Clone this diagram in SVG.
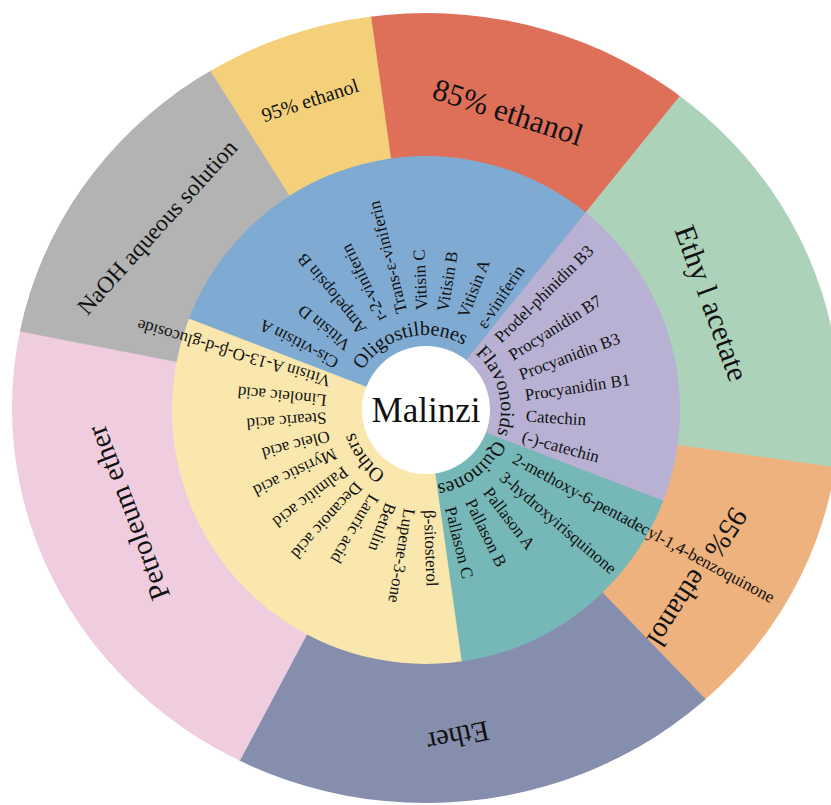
<svg xmlns="http://www.w3.org/2000/svg" width="831" height="805" viewBox="0 0 831 805">
<defs>
<style>
text{font-family:"Liberation Serif","Times New Roman",serif;fill:#111;}
.leaf{font-size:17px;}
.cat{font-size:20px;}
.out{text-anchor:middle;dominant-baseline:central;}
</style>
<clipPath id="clipOuter"><ellipse cx="426" cy="408" rx="414" ry="395"/></clipPath>
<clipPath id="clipInner"><circle cx="426" cy="410" r="254"/></clipPath>
<path id="arcOlig" d="M351.18,415.23 A75,75 0 0 1 494.51,379.50"/>
<path id="arcFlav" d="M419.46,335.29 A75,75 0 0 1 457.70,477.97"/>
<path id="arcQuin" d="M492.53,375.37 A75,75 0 0 1 375.33,465.30"/>
<path id="arcOth" d="M460.63,476.53 A75,75 0 0 1 370.70,359.33"/>
</defs>
<rect width="831" height="805" fill="#ffffff"/>

<g id="outer-ring" clip-path="url(#clipOuter)" stroke-width="0.8">
  <polygon id="s-85ethanol" points="426,410 286.8,-580.3 1055.3,-367.1" fill="#DE7059" stroke="#DE7059"/>
  <polygon id="s-ethylacetate" points="426,410 1055.3,-367.1 1416.3,549.2" fill="#ACD3B9" stroke="#ACD3B9"/>
  <polygon id="s-95ethanol-r" points="426,410 1416.3,549.2 1120.7,1129.3" fill="#EDB27E" stroke="#EDB27E"/>
  <polygon id="s-ether" points="426,410 1120.7,1129.3 -43.5,1292.9" fill="#858FAD" stroke="#858FAD"/>
  <polygon id="s-petroleum" points="426,410 -43.5,1292.9 -555.6,219.2" fill="#EFCDDF" stroke="#EFCDDF"/>
  <polygon id="s-naoh" points="426,410 -555.6,219.2 -109.8,-434.3" fill="#B3B3B3" stroke="#B3B3B3"/>
  <polygon id="s-95ethanol-t" points="426,410 -109.8,-434.3 286.8,-580.3" fill="#F4D07A" stroke="#F4D07A"/>
</g>

<g id="inner-ring" clip-path="url(#clipInner)" stroke-width="0.8">
  <polygon id="s-oligostilbenes" points="426,410 -507.6,51.6 1055.3,-367.1" fill="#7FAAD1" stroke="#7FAAD1"/>
  <polygon id="s-flavonoids" points="426,410 1055.3,-367.1 1359.6,768.4" fill="#B8B1D3" stroke="#B8B1D3"/>
  <polygon id="s-quinones" points="426,410 1359.6,768.4 565.2,1400.3" fill="#76B8B7" stroke="#76B8B7"/>
  <polygon id="s-others" points="426,410 565.2,1400.3 -507.6,51.6" fill="#F9E7AE" stroke="#F9E7AE"/>
</g>

<g id="center">
  <circle cx="426" cy="410" r="64" fill="#ffffff"/>
  <text x="426" y="410" class="out" style="font-size:35px">Malinzi</text>
</g>

<g id="outer-labels">
  <text class="out" transform="translate(508 112) rotate(18)" style="font-size:31px">85% ethanol</text>
  <text class="out" transform="translate(310 100) rotate(-18)" style="font-size:20px">95% ethanol</text>
  <text class="out" transform="translate(157 227) rotate(-48)" style="font-size:23.5px">NaOH aqueous solution</text>
  <text class="out" transform="translate(712 303) rotate(70)" style="font-size:30px">Ethy l acetate</text>
  <text transform="translate(741 511) rotate(123)" dominant-baseline="central" style="font-size:29px">95%<tspan dx="13"> ethanol</tspan></text>
  <text class="out" transform="translate(458 737) rotate(168)" style="font-size:29px">Ether</text>
  <text class="out" transform="translate(128 513) rotate(-111)" style="font-size:29px">Petroleum ether</text>
</g>

<g id="category-labels" class="cat" text-anchor="middle">
  <text><textPath href="#arcOlig" startOffset="50%">Oligostilbenes</textPath></text>
  <text><textPath href="#arcFlav" startOffset="50%">Flavonoids</textPath></text>
  <text><textPath href="#arcQuin" startOffset="50%">Quinones</textPath></text>
  <text><textPath href="#arcOth" startOffset="50%">Others</textPath></text>
</g>

<g id="leaf-labels" class="leaf" dominant-baseline="central">
  <text transform="translate(426 410) rotate(207.5)" x="100">Cis-vitisin A</text>
  <text transform="translate(426 410) rotate(219)" x="100">Vitisin D</text>
  <text transform="translate(426 410) rotate(231)" x="100">Ampelopsin B</text>
  <text transform="translate(426 410) rotate(244)" x="100">r-2-viniferin</text>
  <text transform="translate(426 410) rotate(256)" x="100">Trans-ε-viniferin</text>
  <text transform="translate(426 410) rotate(267.5)" x="100">Vitisin C</text>
  <text transform="translate(426 410) rotate(279.5)" x="100">Vitisin B</text>
  <text transform="translate(426 410) rotate(291.5)" x="100">Vitisin A</text>
  <text transform="translate(426 410) rotate(303.5)" x="100">ε-viniferin</text>
  <text transform="translate(426 410) rotate(315.5)" x="100">Prodel-phinidin B3</text>
  <text transform="translate(426 410) rotate(327.5)" x="100">Procyanidin B7</text>
  <text transform="translate(426 410) rotate(339.5)" x="100">Procyanidin B3</text>
  <text transform="translate(426 410) rotate(351.5)" x="100">Procyanidin B1</text>
  <text transform="translate(426 410) rotate(3.5)" x="100">Catechin</text>
  <text transform="translate(426 410) rotate(15.3)" x="100">(-)-catechin</text>
  <text transform="translate(426 410) rotate(28.5)" x="100">2-methoxy-6-pentadecyl-1,4-benzoquinone</text>
  <text transform="translate(426 410) rotate(40.5)" x="100">3-hydroxyirisquinone</text>
  <text transform="translate(426 410) rotate(52.5)" x="100">Pallason A</text>
  <text transform="translate(426 410) rotate(64)" x="100">Pallason B</text>
  <text transform="translate(426 410) rotate(76)" x="100">Pallason C</text>
  <text transform="translate(426 410) rotate(88)" x="100">β-sitosterol</text>
  <text transform="translate(426 410) rotate(99.5)" x="100">Lupene-3-one</text>
  <text transform="translate(426 410) rotate(110.5)" x="100">Betulin</text>
  <text transform="translate(426 410) rotate(121)" x="100">Lauric acid</text>
  <text transform="translate(426 410) rotate(132)" x="100">Decanoic acid</text>
  <text transform="translate(426 410) rotate(143)" x="100">Palmitic acid</text>
  <text transform="translate(426 410) rotate(154.5)" x="100">Myristic acid</text>
  <text transform="translate(426 410) rotate(165)" x="100">Oleic acid</text>
  <text transform="translate(426 410) rotate(175.5)" x="100">Stearic acid</text>
  <text transform="translate(426 410) rotate(185.5)" x="100">Linoleic acid</text>
  <text transform="translate(426 410) rotate(196.5)" x="100">Vitisin A-13-O-β-d-glucoside</text>
</g>
</svg>
